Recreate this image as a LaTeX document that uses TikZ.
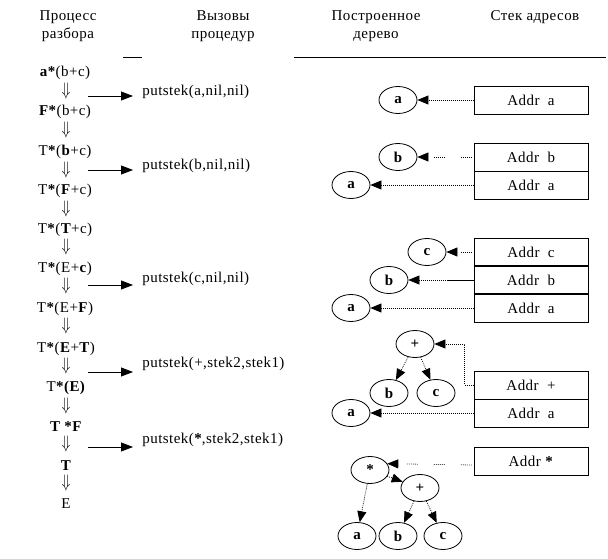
\documentclass[tikz,border=0pt]{standalone}
\usepackage{fontspec}
\setmainfont{Liberation Serif}[LetterSpace=3]
\usetikzlibrary{positioning, shapes.geometric, arrows.meta}

\newcommand{\bstar}{\textbf{*}}
\newcommand{\dnarr}{\scalebox{1}[1.25]{$\Downarrow$}}

\tikzset{
    txt/.style={font=\fontsize{15}{18}\selectfont, inner sep=0pt},
    tnode/.style={ellipse, draw, minimum width=38pt, minimum height=27pt,
        inner sep=0pt, font=\fontsize{15}{18}\selectfont\bfseries},
    addr/.style={draw, minimum width=114pt, minimum height=28pt,
        inner sep=0pt, font=\fontsize{15}{18}\selectfont},
    ptr/.style={-{Triangle[length=11pt,width=9pt]}, dash pattern=on 0.8pt off 1.2pt},
    gapptr/.style={ptr, dash pattern={on 0.8pt off 1.2pt on 0.8pt off 1.2pt on 0.8pt off 1.2pt
        on 0.8pt off 1.2pt on 0.8pt off 1.2pt on 0.8pt off 16.2pt}, dash phase=25pt},
    call/.style={-{Triangle[length=12pt,width=9pt]}},
}

\begin{document}
\begin{tikzpicture}[x=1pt, y=-1pt, line width=0.8pt]
    \useasboundingbox (0,0) rectangle (608,559);

    % headers
    \begin{scope}[every node/.style={txt, align=center}]
        \node (hparse) at (68,26)  {Процесс\\разбора};
        \node (hcalls) at (223,26) {Вызовы\\процедур};
        \node (htree)  at (376,26) {Построенное\\дерево};
        \node (hstack) at (535,17) {Стек адресов};
    \end{scope}
    \draw (123,57) -- (142,57);
    \draw (294,57) -- (606,57);

    % derivation
    \begin{scope}[every node/.style={txt}]
        \node (d1)  at (65,73)  {\textbf{a*}(b+c)};
        \node (v1)  at (66,91)  {\dnarr};
        \node (d2)  at (65,112) {\textbf{F*}(b+c)};
        \node (v2)  at (66,130) {\dnarr};
        \node (d3)  at (65,152) {T\bstar(\textbf{b}+c)};
        \node (v3)  at (66,170) {\dnarr};
        \node (d4)  at (65,191) {T\bstar(\textbf{F}+c)};
        \node (v4)  at (66,209) {\dnarr};
        \node (d5)  at (65,230) {T\bstar(\textbf{T}+c)};
        \node (v5)  at (66,247) {\dnarr};
        \node (d6)  at (65,269) {T\bstar(E+\textbf{c})};
        \node (v6)  at (66,286) {\dnarr};
        \node (d7)  at (65,309) {T\bstar(E+\textbf{F})};
        \node (v7)  at (66,326) {\dnarr};
        \node (d8)  at (66,349) {T\bstar(\textbf{E}+\textbf{T})};
        \node (v8)  at (66,366) {\dnarr};
        \node (d9)  at (66,388) {T\bstar\textbf{(E)}};
        \node (v9)  at (66,406) {\dnarr};
        \node (d10) at (66,427) {\textbf{T *F}};
        \node (v10) at (66,444) {\dnarr};
        \node (d11) at (66,466) {\textbf{T}};
        \node (v11) at (66,483) {\dnarr};
        \node (d12) at (66,504) {E};
    \end{scope}

    % procedure calls
    \begin{scope}[every node/.style={txt, anchor=base west, inner xsep=9pt}]
        \node (k1) at (133,96)  {putstek(a,nil,nil)};
        \node (k2) at (133,170) {putstek(b,nil,nil)};
        \node (k3) at (133,282) {putstek(c,nil,nil)};
        \node (k4) at (133,367) {putstek(+,stek2,stek1)};
        \node (k5) at (133,443) {putstek(\bstar,stek2,stek1)};
    \end{scope}
    \coordinate (s1) at (88,96);
    \coordinate (s2) at (88,170);
    \coordinate (s3) at (88,285);
    \coordinate (s4) at (88,372);
    \coordinate (s5) at (88,447);
    \draw[call] (s1) -- (s1 -| k1.west);
    \draw[call] (s2) -- (s2 -| k2.west);
    \draw[call] (s3) -- (s3 -| k3.west);
    \draw[call] (s4) -- (s4 -| k4.west);
    \draw[call] (s5) -- (s5 -| k5.west);

    % trees
    \begin{scope}[every node/.style={tnode}]
        \node (a1) at (398,100) {a};

        \node (b2) at (398,157) {b};
        \node (a2) at (351,185) {a};

        \node (c3) at (427,252) {c};
        \node (b3) at (389,280) {b};
        \node (a3) at (351,308) {a};

        \node (p4) at (415,344) {+};
        \node (b4) at (389,393) {b};
        \node (c4) at (436,393) {c};
        \node (a4) at (351,413) {a};

        \node (m5) at (370,470) {*};
        \node (p5) at (420,488) {+};
        \node (a5) at (357,536) {a};
        \node (b5) at (398,536) {b};
        \node (c5) at (443,536) {c};
    \end{scope}

    % address stacks
    \begin{scope}[every node/.style={addr}]
        \node (sa1) at (531,100) {Addr~~a};

        \node (sb2) at (531,157) {Addr~~b};
        \node (sa2) at (531,185) {Addr~~a};

        \node (sc3) at (531,252) {Addr~~c};
        \node (sb3) at (531,280) {Addr~~b};
        \node (sa3) at (531,308) {Addr~~a};

        \node (sp4) at (531,385) {Addr~~+};
        \node (sa4) at (531,413) {Addr~~a};

        \node (sm5) at (531,461) {Addr \bstar};
    \end{scope}
    \draw[line width=2pt] (sc3.south west) -- (sc3.south east);
    \draw[line width=2pt] (sb3.south west) -- (sb3.south east);

    % pointers
    \draw[ptr] (sa1) -- (a1);

    \draw[gapptr] (sb2) -- (b2);
    \draw[ptr] (sa2) -- (a2);

    \draw[gapptr] (sc3) -- (c3);
    \draw[ptr] (sb3) -- (b3);
    \draw (sb3.west) -- ++(-26,0);
    \draw[ptr] (sa3) -- (a3);

    \draw[ptr] (sp4.west) -- ++(-9,0) |- (p4);
    \draw[ptr] (p4) -- (b4);
    \draw[ptr] (p4) -- (c4);
    \draw[ptr] (sa4) -- (a4);

    \draw[gapptr] ([yshift=-4pt]sm5.west) -- (m5.20);
    \draw[ptr] (m5) -- (p5);
    \draw[ptr] (m5) -- (a5);
    \draw[ptr] (p5) -- (b5);
    \draw[ptr] (p5) -- (c5);
\end{tikzpicture}
\end{document}
